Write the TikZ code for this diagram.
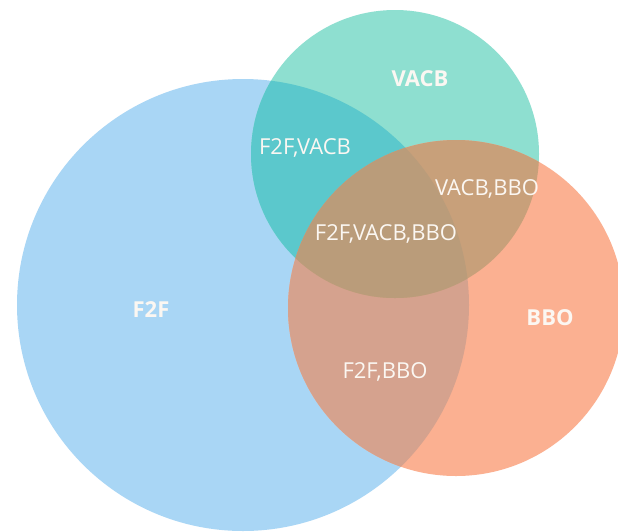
\documentclass[tikz,border=0pt]{standalone}
\usepackage{fontspec}
\setmainfont{Open Sans}
\definecolor{cF}{HTML}{A9D6F5}
\definecolor{cV}{HTML}{8EDFD0}
\definecolor{cB}{HTML}{FBB091}
\definecolor{cFV}{HTML}{5BC8CC}
\definecolor{cFB}{HTML}{D5A28E}
\definecolor{cVB}{HTML}{C8A07A}
\definecolor{cFVB}{HTML}{BA9C7A}
\definecolor{txt}{HTML}{FBF7F2}
\tikzset{
  setlabel/.style={text=txt, font=\bfseries\fontsize{22}{22}\selectfont, inner sep=0pt},
  zonelabel/.style={text=txt, font=\fontsize{22}{22}\selectfont, inner sep=0pt}
}
\begin{document}
\begin{tikzpicture}[x=1pt,y=-1pt]
\useasboundingbox (0,0) rectangle (618,531);
\fill[white] (0,0) rectangle (618,531);
\def\circF{(243,305) circle[radius=226]}
\def\circV{(395,154) circle[radius=144]}
\def\circB{(456,308) circle[radius=168]}
\fill[cF] \circF;
\fill[cV] \circV;
\fill[cB] \circB;
\begin{scope}
  \clip \circF;
  \fill[cFV] \circV;
  \fill[cFB] \circB;
\end{scope}
\begin{scope}
  \clip \circV;
  \fill[cVB] \circB;
\end{scope}
\begin{scope}
  \clip \circF;
  \clip \circV;
  \fill[cFVB] \circB;
\end{scope}
\node[setlabel] (f2f) at (151,310) {F2F};
\node[setlabel] (vacb) at (420,79) {VACB};
\node[setlabel] (bbo) at (550,318) {BBO};
\node[zonelabel] (fv) at (305,148) {F2F,VACB};
\node[zonelabel] (vb) at (487,189) {VACB,BBO};
\node[zonelabel] (fvb) at (386,234) {F2F,VACB,BBO};
\node[zonelabel] (fb) at (385,372) {F2F,BBO};
\end{tikzpicture}
\end{document}
